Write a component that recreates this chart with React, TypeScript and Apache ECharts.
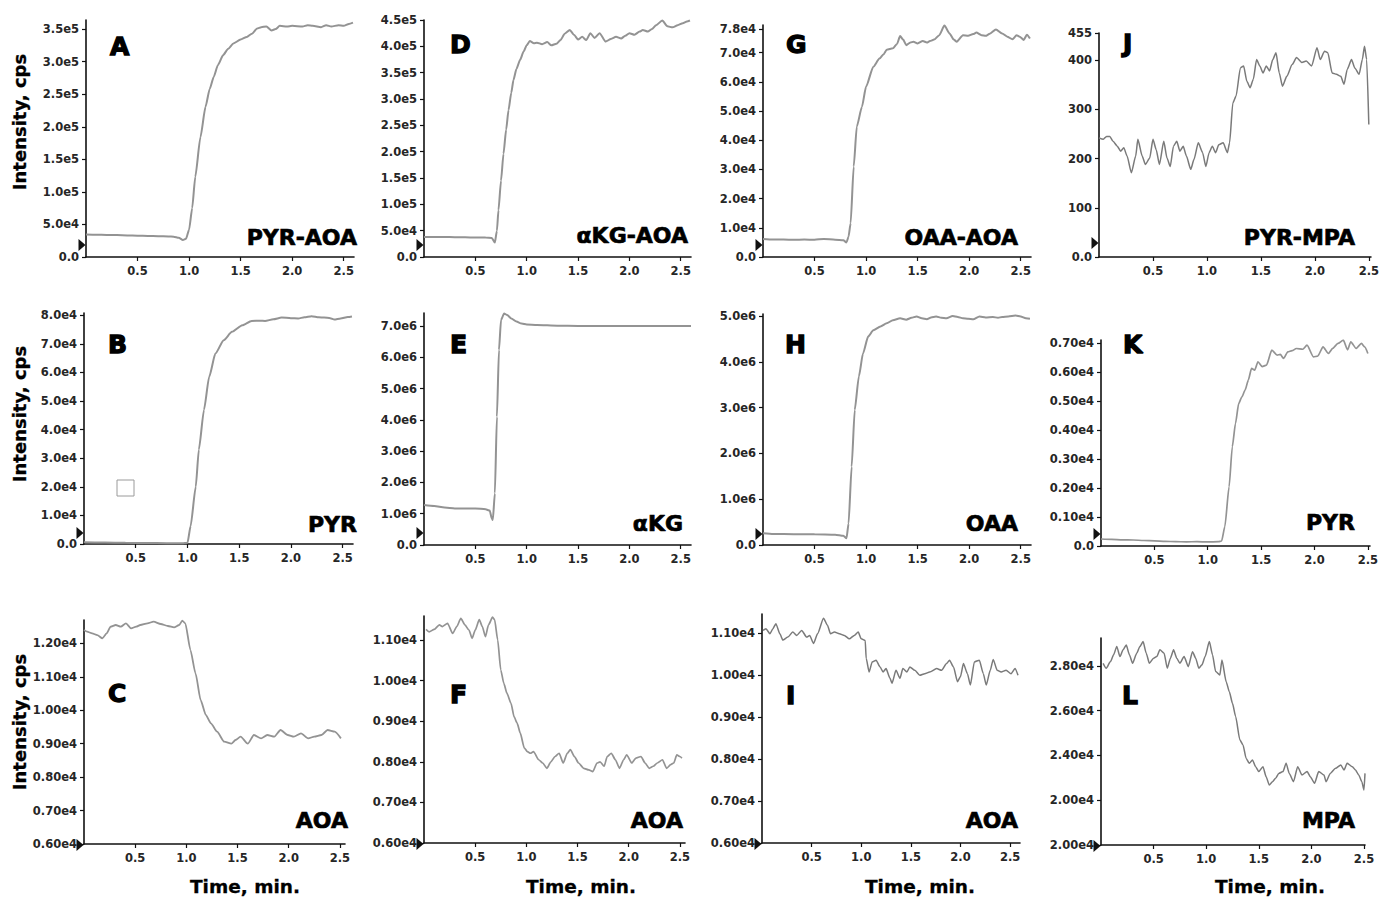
import React, { useEffect, useRef } from "react";
import * as echarts from "echarts";

// Ion-current traces, [time (min), intensity (cps)]
const pyrAoa = [[0,34.5e3],[0.1,34.2e3],[0.2,33.9e3],[0.3,33.6e3],[0.4,33.2e3],[0.5,32.8e3],[0.6,32.4e3],[0.7,32.0e3],[0.8,31.6e3],[0.85,31.2e3],[0.9,29.5e3],[0.94,26.0e3],[0.97,28e3],[1.0,42e3],[1.03,75e3],[1.06,123e3],[1.11,184e3],[1.16,231e3],[1.2,258e3],[1.24,277e3],[1.28,295e3],[1.33,310e3],[1.38,320e3],[1.43,328e3],[1.5,334e3],[1.56,338e3],[1.61,343e3],[1.66,351e3],[1.7,353e3],[1.75,354e3],[1.8,348e3],[1.84,350e3],[1.88,355e3],[1.95,354e3],[2.0,355e3],[2.1,354e3],[2.15,356e3],[2.2,355e3],[2.28,353e3],[2.33,356e3],[2.38,354e3],[2.45,356e3],[2.5,355e3],[2.55,358e3],[2.59,360e3]];
const akgAoa = [[0,38e3],[0.1,38.2e3],[0.2,37.8e3],[0.3,37.7e3],[0.4,37.3e3],[0.5,37.1e3],[0.6,36.8e3],[0.66,36.3e3],[0.69,27.3e3],[0.71,50e3],[0.725,88.7e3],[0.75,145e3],[0.774,196e3],[0.8,242e3],[0.823,279e3],[0.85,312e3],[0.871,336e3],[0.9,357e3],[0.935,374e3],[0.97,390e3],[1.0,402e3],[1.03,410e3],[1.07,406e3],[1.1,407e3],[1.15,404e3],[1.2,408e3],[1.24,402e3],[1.29,405e3],[1.33,412e3],[1.37,424e3],[1.42,431e3],[1.46,422e3],[1.5,413e3],[1.54,418e3],[1.58,412e3],[1.62,425e3],[1.66,416e3],[1.71,425e3],[1.77,409e3],[1.82,414e3],[1.87,418e3],[1.92,415e3],[1.96,420e3],[2.0,425e3],[2.05,422e3],[2.1,428e3],[2.13,431e3],[2.18,428e3],[2.22,433e3],[2.26,440e3],[2.32,449e3],[2.37,438e3],[2.42,436e3],[2.47,440e3],[2.52,444e3],[2.56,447e3],[2.59,449e3]];
const oaaAoa = [[0,6.2e3],[0.1,6.0e3],[0.2,6.0e3],[0.3,5.9e3],[0.4,6.0e3],[0.5,5.9e3],[0.59,6.2e3],[0.7,5.9e3],[0.78,5.7e3],[0.81,5.0e3],[0.83,7e3],[0.85,11.6e3],[0.88,31e3],[0.91,44.7e3],[0.96,51.5e3],[1.0,58.4e3],[1.07,65.2e3],[1.13,68e3],[1.17,69.5e3],[1.2,71e3],[1.26,71.5e3],[1.3,73e3],[1.33,75.7e3],[1.36,74.5e3],[1.39,72.6e3],[1.43,73.5e3],[1.46,73.8e3],[1.5,73.2e3],[1.55,74e3],[1.59,73.5e3],[1.62,74e3],[1.66,74.5e3],[1.71,76e3],[1.76,79.3e3],[1.81,76.6e3],[1.85,74.5e3],[1.88,73.8e3],[1.94,76e3],[1.99,75.8e3],[2.04,76.4e3],[2.07,76.9e3],[2.12,76e3],[2.16,75.8e3],[2.2,76.5e3],[2.26,78e3],[2.32,76.6e3],[2.37,75.5e3],[2.42,74.6e3],[2.46,76e3],[2.49,75.5e3],[2.53,74.4e3],[2.56,76.2e3],[2.59,74.9e3]];
const pyrMpa = [[0,242],[0.04,239],[0.07,245],[0.1,245],[0.13,235],[0.17,225],[0.2,215],[0.23,222],[0.26,205],[0.3,171],[0.34,205],[0.36,239],[0.4,205],[0.43,188],[0.47,201],[0.5,239],[0.53,218],[0.56,188],[0.6,235],[0.63,201],[0.66,184],[0.69,225],[0.72,235],[0.75,215],[0.78,225],[0.81,205],[0.85,178],[0.88,198],[0.92,232],[0.96,212],[0.99,184],[1.02,212],[1.05,225],[1.08,212],[1.11,228],[1.15,232],[1.19,212],[1.21,232],[1.24,313],[1.27,327],[1.31,384],[1.34,388],[1.37,357],[1.4,344],[1.43,361],[1.46,401],[1.49,388],[1.52,374],[1.55,388],[1.58,378],[1.61,401],[1.64,415],[1.67,374],[1.7,347],[1.74,367],[1.79,391],[1.83,405],[1.88,395],[1.92,398],[1.97,388],[2.02,425],[2.05,401],[2.09,418],[2.12,415],[2.16,374],[2.2,371],[2.24,367],[2.27,351],[2.3,381],[2.34,401],[2.37,384],[2.41,371],[2.44,401],[2.46,428],[2.48,401],[2.5,269]];
const pyr = [[0,600],[0.2,500],[0.4,400],[0.6,350],[0.8,300],[0.95,250],[1.0,400],[1.03,6.2e3],[1.08,20e3],[1.11,33e3],[1.16,47e3],[1.21,58.5e3],[1.27,66.6e3],[1.35,71.3e3],[1.43,74.2e3],[1.53,76.5e3],[1.62,78e3],[1.7,78.1e3],[1.75,78e3],[1.83,78.6e3],[1.91,79.2e3],[2.0,79e3],[2.07,78.9e3],[2.13,79.3e3],[2.2,79.7e3],[2.27,79.3e3],[2.32,79.2e3],[2.38,79.0e3],[2.42,78.5e3],[2.48,78.9e3],[2.55,79.4e3],[2.59,79.6e3]];
const akg = [[0,1.28e6],[0.1,1.25e6],[0.2,1.2e6],[0.3,1.17e6],[0.4,1.17e6],[0.5,1.17e6],[0.6,1.14e6],[0.64,1.1e6],[0.66,0.85e6],[0.67,0.8e6],[0.69,1.65e6],[0.71,4.1e6],[0.73,6.23e6],[0.75,7.19e6],[0.78,7.4e6],[0.81,7.35e6],[0.85,7.24e6],[0.9,7.14e6],[0.95,7.08e6],[1.0,7.05e6],[1.1,7.03e6],[1.3,7.01e6],[1.5,7.0e6],[1.8,7.0e6],[2.0,7.0e6],[2.3,7.0e6],[2.5,7.0e6],[2.6,7.0e6]];
const oaa = [[0,0.255e6],[0.1,0.24e6],[0.3,0.235e6],[0.5,0.233e6],[0.7,0.225e6],[0.78,0.2e6],[0.81,0.146e6],[0.83,0.47e6],[0.86,1.71e6],[0.89,2.95e6],[0.93,3.68e6],[0.97,4.18e6],[1.02,4.55e6],[1.07,4.69e6],[1.14,4.77e6],[1.2,4.84e6],[1.26,4.91e6],[1.33,4.95e6],[1.39,4.92e6],[1.44,4.96e6],[1.49,4.99e6],[1.54,4.95e6],[1.59,4.93e6],[1.63,4.97e6],[1.68,4.99e6],[1.73,4.96e6],[1.78,4.95e6],[1.84,5.0e6],[1.89,4.98e6],[1.94,4.95e6],[1.99,4.94e6],[2.04,4.93e6],[2.1,4.99e6],[2.16,4.97e6],[2.23,4.98e6],[2.28,4.96e6],[2.32,4.98e6],[2.38,4.99e6],[2.45,5.01e6],[2.5,4.99e6],[2.55,4.95e6],[2.59,4.94e6]];
const pyrK = [[0,242],[0.1,230],[0.2,215],[0.3,207],[0.4,190],[0.5,180],[0.6,160],[0.7,150],[0.8,145],[0.9,150],[1.0,140],[1.1,150],[1.13,173],[1.16,668],[1.2,2049],[1.23,3431],[1.26,4236],[1.29,4927],[1.32,5157],[1.35,5388],[1.38,5733],[1.41,6136],[1.44,6079],[1.47,6366],[1.51,6200],[1.55,6250],[1.6,6769],[1.65,6597],[1.68,6620],[1.71,6482],[1.75,6712],[1.79,6750],[1.83,6827],[1.89,6800],[1.93,6942],[1.99,6539],[2.03,6560],[2.08,6884],[2.13,6654],[2.17,6830],[2.22,7000],[2.27,7115],[2.31,6780],[2.34,7057],[2.39,6830],[2.44,7000],[2.47,6880],[2.5,6654]];
const aoaC = [[0,12.4e3],[0.03,12.35e3],[0.08,12.3e3],[0.13,12.25e3],[0.18,12.15e3],[0.22,12.3e3],[0.26,12.5e3],[0.31,12.55e3],[0.36,12.5e3],[0.41,12.6e3],[0.46,12.45e3],[0.51,12.5e3],[0.55,12.55e3],[0.62,12.6e3],[0.68,12.65e3],[0.75,12.58e3],[0.82,12.52e3],[0.88,12.48e3],[0.93,12.55e3],[0.96,12.68e3],[0.99,12.6e3],[1.04,11.8e3],[1.09,11.1e3],[1.14,10.3e3],[1.19,9.86e3],[1.24,9.61e3],[1.3,9.36e3],[1.37,9.06e3],[1.44,9.0e3],[1.48,9.11e3],[1.53,9.21e3],[1.6,9.0e3],[1.66,9.26e3],[1.73,9.16e3],[1.79,9.26e3],[1.86,9.21e3],[1.92,9.41e3],[1.99,9.26e3],[2.05,9.21e3],[2.12,9.31e3],[2.19,9.16e3],[2.25,9.21e3],[2.32,9.26e3],[2.38,9.41e3],[2.45,9.36e3],[2.51,9.16e3]];
const aoaF = [[0.02,11.26e3],[0.05,11.2e3],[0.1,11.26e3],[0.15,11.37e3],[0.18,11.33e3],[0.23,11.41e3],[0.28,11.16e3],[0.32,11.33e3],[0.36,11.53e3],[0.4,11.37e3],[0.44,11.24e3],[0.47,11.04e3],[0.5,11.24e3],[0.54,11.5e3],[0.57,11.33e3],[0.6,11.08e3],[0.63,11.37e3],[0.67,11.56e3],[0.69,11.5e3],[0.72,11.0e3],[0.75,10.26e3],[0.78,9.93e3],[0.81,9.69e3],[0.85,9.44e3],[0.88,9.11e3],[0.91,8.95e3],[0.94,8.71e3],[0.98,8.34e3],[1.01,8.25e3],[1.04,8.21e3],[1.07,8.25e3],[1.12,8.05e3],[1.16,7.97e3],[1.2,7.84e3],[1.24,8.0e3],[1.28,8.13e3],[1.32,8.21e3],[1.36,7.97e3],[1.4,8.21e3],[1.43,8.3e3],[1.47,8.13e3],[1.51,7.97e3],[1.56,7.84e3],[1.61,7.8e3],[1.65,7.76e3],[1.69,7.97e3],[1.72,8.0e3],[1.76,7.89e3],[1.79,8.13e3],[1.83,8.21e3],[1.87,8.05e3],[1.91,7.84e3],[1.95,8.05e3],[1.98,8.17e3],[2.03,7.97e3],[2.07,8.09e3],[2.12,8.13e3],[2.16,7.97e3],[2.2,7.84e3],[2.24,7.89e3],[2.28,7.97e3],[2.33,8.05e3],[2.37,7.84e3],[2.41,7.93e3],[2.44,7.97e3],[2.47,8.17e3],[2.5,8.13e3],[2.52,8.09e3]];
const aoaI = [[0.01,11.06e3],[0.04,11.1e3],[0.08,10.98e3],[0.11,11.1e3],[0.14,11.22e3],[0.18,10.98e3],[0.21,10.83e3],[0.26,10.9e3],[0.31,11.02e3],[0.35,10.94e3],[0.4,11.06e3],[0.45,10.9e3],[0.48,10.94e3],[0.52,10.75e3],[0.56,10.98e3],[0.62,11.35e3],[0.66,11.18e3],[0.69,10.98e3],[0.73,11.02e3],[0.78,10.98e3],[0.83,10.94e3],[0.88,10.86e3],[0.93,10.94e3],[0.97,11.02e3],[1.0,10.86e3],[1.04,10.82e3],[1.05,10.39e3],[1.08,10.07e3],[1.11,10.31e3],[1.15,10.35e3],[1.19,10.19e3],[1.22,10.07e3],[1.25,10.15e3],[1.29,9.92e3],[1.31,9.8e3],[1.35,10.11e3],[1.39,9.92e3],[1.42,10.15e3],[1.46,10.07e3],[1.49,10.19e3],[1.54,10.11e3],[1.59,9.99e3],[1.64,10.03e3],[1.69,10.07e3],[1.76,10.15e3],[1.81,10.11e3],[1.86,10.27e3],[1.89,10.35e3],[1.93,10.19e3],[1.97,9.84e3],[2.0,9.96e3],[2.03,10.27e3],[2.07,10.03e3],[2.1,9.76e3],[2.14,10.31e3],[2.19,10.35e3],[2.23,10.03e3],[2.26,9.76e3],[2.3,10.11e3],[2.33,10.37e3],[2.37,10.11e3],[2.41,10.07e3],[2.46,10.11e3],[2.51,10.03e3],[2.55,10.15e3],[2.58,9.99e3]];
const mpaL = [[0.02,28.12e3],[0.05,27.9e3],[0.09,28.2e3],[0.12,28.5e3],[0.15,28.87e3],[0.18,28.42e3],[0.21,28.72e3],[0.24,28.94e3],[0.27,28.5e3],[0.3,28.12e3],[0.34,28.57e3],[0.37,28.87e3],[0.4,29.09e3],[0.43,28.57e3],[0.46,28.12e3],[0.5,28.35e3],[0.53,28.42e3],[0.56,28.72e3],[0.6,28.57e3],[0.63,27.9e3],[0.66,28.35e3],[0.69,28.72e3],[0.72,28.35e3],[0.75,28.12e3],[0.79,28.42e3],[0.83,27.97e3],[0.87,28.64e3],[0.9,28.35e3],[0.93,27.9e3],[0.96,28.05e3],[0.99,28.42e3],[1.03,29.09e3],[1.06,28.5e3],[1.09,27.75e3],[1.13,27.6e3],[1.15,28.27e3],[1.19,27.3e3],[1.22,26.85e3],[1.25,26.33e3],[1.28,25.74e3],[1.32,24.7e3],[1.35,24.47e3],[1.38,23.87e3],[1.41,23.65e3],[1.44,23.8e3],[1.47,23.5e3],[1.5,23.28e3],[1.54,23.5e3],[1.57,23.05e3],[1.6,22.68e3],[1.63,22.83e3],[1.66,22.98e3],[1.69,23.2e3],[1.73,23.28e3],[1.76,23.65e3],[1.79,23.2e3],[1.83,22.83e3],[1.87,23.5e3],[1.91,23.13e3],[1.96,23.28e3],[1.99,23.05e3],[2.03,22.76e3],[2.07,23.28e3],[2.12,23.13e3],[2.14,22.83e3],[2.18,23.2e3],[2.23,23.43e3],[2.28,23.58e3],[2.31,23.35e3],[2.34,23.65e3],[2.39,23.5e3],[2.42,23.35e3],[2.45,23.13e3],[2.48,22.83e3],[2.5,22.46e3],[2.51,23.2e3]];

// Time axis ticks (min)
const timeTicks = [0.5, 1.0, 1.5, 2.0, 2.5];

// Intensity axis ticks: [value, printed label]
const ticksA = [[0,"0.0"],[5e4,"5.0e4"],[1e5,"1.0e5"],[1.5e5,"1.5e5"],[2e5,"2.0e5"],[2.5e5,"2.5e5"],[3e5,"3.0e5"],[3.5e5,"3.5e5"]];
const ticksD = [[0,"0.0"],[5e4,"5.0e4"],[1e5,"1.0e5"],[1.5e5,"1.5e5"],[2e5,"2.0e5"],[2.5e5,"2.5e5"],[3e5,"3.0e5"],[3.5e5,"3.5e5"],[4e5,"4.0e5"],[4.5e5,"4.5e5"]];
const ticksG = [[0,"0.0"],[1e4,"1.0e4"],[2e4,"2.0e4"],[3e4,"3.0e4"],[4e4,"4.0e4"],[5e4,"5.0e4"],[6e4,"6.0e4"],[7e4,"7.0e4"],[7.8e4,"7.8e4"]];
const ticksJ = [[0,"0.0"],[100,"100"],[200,"200"],[300,"300"],[400,"400"],[455,"455"]];
const ticksB = [[0,"0.0"],[1e4,"1.0e4"],[2e4,"2.0e4"],[3e4,"3.0e4"],[4e4,"4.0e4"],[5e4,"5.0e4"],[6e4,"6.0e4"],[7e4,"7.0e4"],[8e4,"8.0e4"]];
const ticksE = [[0,"0.0"],[1e6,"1.0e6"],[2e6,"2.0e6"],[3e6,"3.0e6"],[4e6,"4.0e6"],[5e6,"5.0e6"],[6e6,"6.0e6"],[7e6,"7.0e6"]];
const ticksH = [[0,"0.0"],[1e6,"1.0e6"],[2e6,"2.0e6"],[3e6,"3.0e6"],[4e6,"4.0e6"],[5e6,"5.0e6"]];
const ticksK = [[0,"0.0"],[1000,"0.10e4"],[2000,"0.20e4"],[3000,"0.30e4"],[4000,"0.40e4"],[5000,"0.50e4"],[6000,"0.60e4"],[7000,"0.70e4"]];
const ticksC = [[6000,"0.60e4"],[7000,"0.70e4"],[8000,"0.80e4"],[9000,"0.90e4"],[10000,"1.00e4"],[11000,"1.10e4"],[12000,"1.20e4"]];
const ticksFI = [[6000,"0.60e4"],[7000,"0.70e4"],[8000,"0.80e4"],[9000,"0.90e4"],[10000,"1.00e4"],[11000,"1.10e4"]];
const ticksL = [[20000,"2.00e4"],[22000,"2.00e4"],[24000,"2.40e4"],[26000,"2.60e4"],[28000,"2.80e4"]];

const FONT = "'DejaVu Sans', 'Liberation Sans', sans-serif";
const SMOOTH_LINE = "#939393";
const NOISY_LINE = "#7a7a7a";

type Panel = {
  letter: string; name: string; trace: number[][]; ticks: (number | string)[][];
  left: number; top: number; width: number; height: number;
  xMax: number; yMin: number; yMax: number;
  color: string; lw: number;
  letterAt: [number, number]; nameAt: [number, number]; markerDy: number;
};

const panels: Panel[] = [
  { letter: "A", name: "PYR-AOA", trace: pyrAoa, ticks: ticksA, left: 86, top: 20, width: 268, height: 237, xMax: 2.6, yMin: 0, yMax: 3.64e5, color: SMOOTH_LINE, lw: 2, letterAt: [110, 46], nameAt: [357, 237], markerDy: -12 },
  { letter: "D", name: "αKG-AOA", trace: akgAoa, ticks: ticksD, left: 424, top: 20, width: 267, height: 237, xMax: 2.6, yMin: 0, yMax: 4.5e5, color: SMOOTH_LINE, lw: 2, letterAt: [450, 44], nameAt: [688, 235], markerDy: -12 },
  { letter: "G", name: "OAA-AOA", trace: oaaAoa, ticks: ticksG, left: 763, top: 25, width: 268, height: 232, xMax: 2.6, yMin: 0, yMax: 79.5e3, color: SMOOTH_LINE, lw: 2, letterAt: [786, 44], nameAt: [1018, 237], markerDy: -12 },
  { letter: "J", name: "PYR-MPA", trace: pyrMpa, ticks: ticksJ, left: 1099, top: 33, width: 278, height: 224, xMax: 2.52, yMin: 0, yMax: 455, color: NOISY_LINE, lw: 1.5, letterAt: [1123, 43], nameAt: [1355, 237], markerDy: -14 },
  { letter: "B", name: "PYR", trace: pyr, ticks: ticksB, left: 84, top: 313, width: 269, height: 231, xMax: 2.6, yMin: 0, yMax: 80.8e3, color: SMOOTH_LINE, lw: 2, letterAt: [108, 344], nameAt: [357, 524], markerDy: -11 },
  { letter: "E", name: "αKG", trace: akg, ticks: ticksE, left: 424, top: 313, width: 267, height: 232, xMax: 2.6, yMin: 0, yMax: 7.415e6, color: SMOOTH_LINE, lw: 2, letterAt: [450, 344], nameAt: [683, 523], markerDy: -12 },
  { letter: "H", name: "OAA", trace: oaa, ticks: ticksH, left: 763, top: 314, width: 268, height: 231, xMax: 2.6, yMin: 0, yMax: 5.044e6, color: SMOOTH_LINE, lw: 2, letterAt: [785, 344], nameAt: [1018, 523], markerDy: -11 },
  { letter: "K", name: "PYR", trace: pyrK, ticks: ticksK, left: 1101, top: 340, width: 269, height: 206, xMax: 2.52, yMin: 0, yMax: 7120, color: SMOOTH_LINE, lw: 1.7, letterAt: [1123, 344], nameAt: [1355, 522], markerDy: -12 },
  { letter: "C", name: "AOA", trace: aoaC, ticks: ticksC, left: 84, top: 620, width: 261, height: 224, xMax: 2.55, yMin: 6000, yMax: 12700, color: SMOOTH_LINE, lw: 1.8, letterAt: [108, 693], nameAt: [348, 820], markerDy: 1 },
  { letter: "F", name: "AOA", trace: aoaF, ticks: ticksFI, left: 424, top: 616, width: 261, height: 227, xMax: 2.55, yMin: 6000, yMax: 11590, color: SMOOTH_LINE, lw: 1.7, letterAt: [450, 694], nameAt: [683, 820], markerDy: 1 },
  { letter: "I", name: "AOA", trace: aoaI, ticks: ticksFI, left: 762, top: 614, width: 258, height: 229, xMax: 2.6, yMin: 6000, yMax: 11450, color: NOISY_LINE, lw: 1.5, letterAt: [786, 695], nameAt: [1018, 820], markerDy: 1 },
  { letter: "L", name: "MPA", trace: mpaL, ticks: ticksL, left: 1101, top: 638, width: 264, height: 207, xMax: 2.51, yMin: 20000, yMax: 29250, color: NOISY_LINE, lw: 1.5, letterAt: [1122, 695], nameAt: [1355, 820], markerDy: 1 },
];

function tickLabel(ticks: (number | string)[][], v: number): string {
  for (const [tv, tl] of ticks) {
    if (Math.abs((tv as number) - v) <= Math.abs(v) * 1e-6 + 1e-9) return tl as string;
  }
  return "";
}

function buildOption() {
  const axisLine = { show: true, onZero: false, lineStyle: { color: "#111", width: 1.6 } };
  const labelBase = { fontFamily: FONT, fontWeight: "bold" as const, fontSize: 11.5, color: "#262626" };

  const grid = panels.map((p) => ({ left: p.left, top: p.top, width: p.width, height: p.height }));

  const xAxis = panels.map((p, i) => ({
    type: "value", gridIndex: i, min: 0, max: p.xMax,
    axisLine,
    axisTick: { show: true, length: 4, customValues: timeTicks, lineStyle: { color: "#111", width: 1.2 } },
    axisLabel: { ...labelBase, margin: 8, customValues: timeTicks, formatter: (v: number) => v.toFixed(1) },
    splitLine: { show: false },
  }));

  const yAxis = panels.map((p, i) => {
    const vals = p.ticks.map((t) => t[0] as number);
    return {
      type: "value", gridIndex: i, min: p.yMin, max: p.yMax,
      axisLine,
      axisTick: { show: true, length: 4, customValues: vals, lineStyle: { color: "#111", width: 1.2 } },
      axisLabel: { ...labelBase, margin: 7, customValues: vals, formatter: (v: number) => tickLabel(p.ticks, v) },
      splitLine: { show: false },
    };
  });

  const series = panels.map((p, i) => ({
    type: "line", xAxisIndex: i, yAxisIndex: i, data: p.trace,
    showSymbol: false, smooth: 0.2, smoothMonotone: "x",
    lineStyle: { color: p.color, width: p.lw },
    silent: true,
    markPoint: {
      silent: true,
      symbol: "path://M0,0L6,6L0,12Z",
      symbolSize: [7, 12],
      symbolOffset: [-4, p.markerDy],
      itemStyle: { color: "#111" },
      label: { show: false },
      data: [{ coord: [0, p.yMin] }],
    },
  }));

  const graphic: any[] = [];
  panels.forEach((p) => {
    graphic.push({
      type: "text", x: p.letterAt[0], y: p.letterAt[1],
      style: { text: p.letter, fontFamily: FONT, fontWeight: "bold", fontSize: 25, fill: "#000", stroke: "#000", lineWidth: 1.3, align: "left", verticalAlign: "middle" },
    });
    graphic.push({
      type: "text", x: p.nameAt[0], y: p.nameAt[1],
      style: { text: p.name, fontFamily: FONT, fontWeight: "bold", fontSize: 22, fill: "#000", stroke: "#000", lineWidth: 0.7, align: "right", verticalAlign: "middle" },
    });
  });
  [122, 414, 722].forEach((cy) => {
    graphic.push({
      type: "text", x: 19.5, y: cy, rotation: Math.PI / 2,
      style: { text: "Intensity, cps", fontFamily: FONT, fontWeight: "bold", fontSize: 18, fill: "#000", stroke: "#000", lineWidth: 0.3, align: "center", verticalAlign: "middle" },
    });
  });
  [245, 581, 920, 1270].forEach((cx) => {
    graphic.push({
      type: "text", x: cx, y: 886,
      style: { text: "Time, min.", fontFamily: FONT, fontWeight: "bold", fontSize: 18.5, fill: "#000", stroke: "#000", lineWidth: 0.3, align: "center", verticalAlign: "middle" },
    });
  });
  // small open square inside panel B
  graphic.push({ type: "rect", shape: { x: 117, y: 480, width: 17, height: 16 }, style: { fill: "none", stroke: "#9a9a9a", lineWidth: 1 } });

  return { animation: false, backgroundColor: "#ffffff", grid, xAxis, yAxis, series, graphic };
}

export default function App() {
  const ref = useRef<HTMLDivElement>(null);
  useEffect(() => {
    if (!ref.current) return;
    const chart = echarts.init(ref.current, null, { renderer: "svg" });
    chart.setOption(buildOption() as any);
    return () => chart.dispose();
  }, []);
  return <div ref={ref} style={{ position: "fixed", left: 0, top: 0, width: 1382, height: 899, background: "#fff" }} />;
}
